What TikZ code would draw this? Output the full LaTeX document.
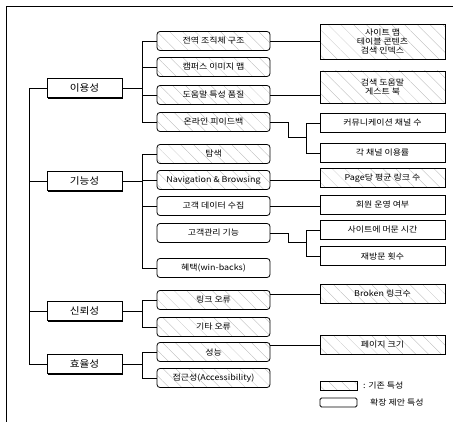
\documentclass[tikz,border=0pt]{standalone}
\usepackage{fontspec}
\setmainfont{Noto Sans CJK KR}[FakeStretch=1.12]
\usetikzlibrary{patterns.meta, shadows}

\tikzset{
  catbox/.style={draw, fill=white, line width=0.9pt, minimum width=75, minimum height=19,
    inner sep=1pt, font=\fontsize{9.5}{10}\selectfont,
    drop shadow={shadow xshift=1.3pt, shadow yshift=-1.3pt, opacity=1, fill=black}},
  subbox/.style={draw, line width=0.8pt, rounded corners=3pt, minimum width=113, minimum height=19,
    inner sep=1pt, font=\fontsize{8}{9}\selectfont},
  leafbox/.style={draw, line width=0.8pt, minimum width=125, minimum height=19,
    inner sep=1pt, align=center, font=\fontsize{8}{9}\selectfont},
  hatch/.style={pattern={Lines[angle=-45, distance=9pt, line width=0.3pt]}, pattern color=gray!55},
}

\begin{document}
\begin{tikzpicture}[x=1pt, y=-1pt, line width=0.8pt]
        \useasboundingbox (0,0) rectangle (466,422);

        % Frame
        \draw[line width=1pt] (6,422) -- (6,7) -- (453,7);

        % Categories
        \node[catbox] (usab) at (84.5,88) {이용성};
        \node[catbox] (func) at (84.5,181) {기능성};
        \node[catbox] (reli) at (84.5,311) {신뢰성};
        \node[catbox] (effi) at (84.5,364) {효율성};

        % Trunk
        \draw (usab.west) -- ++(-17,0) |- (effi.west);
        \foreach \c in {func,reli}
          \draw (\c.west) -- ++(-17,0);

        % Usability
        \node[subbox, hatch] (g1) at (213.5,41) {전역 조직체 구조};
        \node[subbox, hatch] (g2) at (213.5,67) {캠퍼스 이미지 맵};
        \node[subbox, hatch] (g3) at (213.5,95) {도움말 특성 품질};
        \node[subbox, hatch] (g4) at (213.5,122) {온라인 피이드백};
        \node[leafbox, hatch, minimum height=35] (l1) at (382.5,42) {사이트 맵\\테이블 콘텐츠\\검색 인덱스};
        \node[leafbox, hatch, minimum height=32] (l2) at (382.5,87) {검색 도움말\\게스트 북};
        \node[leafbox] (l3) at (382.5,123) {커뮤니케이션 채널 수};
        \node[leafbox] (l4) at (382.5,153) {각 채널 이용률};

        \draw (usab.east) -- ++(21,0);
        \draw (g1.west) -- ++(-14,0) |- (g4.west);
        \foreach \g in {g2,g3}
          \draw (\g.west) -- ++(-14,0);
        \draw (g1.east) -- (g1.east -| l1.west);
        \draw (g3.east) -- (g3.east -| l2.west);
        \draw (g4.east) -- ++(18,0) -- ++(0,15) -- ++(19,0);
        \draw (l3.west) -- ++(-13,0) |- (l4.west);

        % Functionality
        \node[subbox, hatch] (f1) at (213.5,154) {탐색};
        \node[subbox, hatch] (f2) at (213.5,180) {Navigation \& Browsing};
        \node[subbox] (f3) at (213.5,206) {고객 데이터 수집};
        \node[subbox] (f4) at (213.5,233) {고객관리 기능};
        \node[subbox] (f5) at (213.5,268) {혜택(win-backs)};
        \node[leafbox, hatch] (p1) at (382.5,178) {Page당 평균 링크 수};
        \node[leafbox] (p2) at (382.5,205) {회원 운영 여부};
        \node[leafbox] (p3) at (382.5,230) {사이트에 머문 시간};
        \node[leafbox] (p4) at (382.5,256) {재방문 횟수};

        \draw (func.east) -- ++(21,0);
        \draw (f1.west) -- ++(-14,0) |- (f5.west);
        \foreach \f in {f2,f3}
          \draw (\f.west) -- ++(-14,0);
        \draw (f2.east) -- (f2.east -| p1.west);
        \draw (f3.east) -- (f3.east -| p2.west);
        \draw (f4.east) -- ++(18,0) -- ++(0,9) -- ++(19,0);
        \draw (p3.west) -- ++(-13,0) |- (p4.west);

        % Reliability
        \node[subbox, hatch] (r1) at (213.5,300) {링크 오류};
        \node[subbox, hatch] (r2) at (213.5,327) {기타 오류};
        \node[leafbox, hatch] (brk) at (382.5,294) {Broken 링크수};

        \draw (reli.east) -- ++(21,0);
        \draw (r1.west) -- ++(-14,0) |- (r2.west);
        \draw (brk.west) -- (brk.west -| r1.east);

        % Efficiency
        \node[subbox, hatch] (e1) at (213.5,352) {성능};
        \node[subbox, hatch] (e2) at (213.5,378) {접근성(Accessibility)};
        \node[leafbox, hatch] (psize) at (382.5,345) {페이지 크기};

        \draw (effi.east) -- ++(21,0);
        \draw (e1.west) -- ++(-14,0) |- (e2.west);
        \draw (psize.west) -- (psize.west -| e1.east);

        % Legend
        \node[leafbox, hatch, minimum width=37, minimum height=9] (leg1) at (338.5,385.5) {};
        \node[leafbox, rounded corners=1.5pt, minimum width=37, minimum height=9] (leg2) at (338.5,402.5) {};
        \node[anchor=west, font=\fontsize{8}{9}\selectfont] (leg1t) at ([xshift=2pt]leg1.east) {: 기존 특성};
        \node[anchor=west, font=\fontsize{8}{9}\selectfont] (leg2t) at ([xshift=9pt]leg2.east) {확장 제안 특성};

\end{tikzpicture}
\end{document}
